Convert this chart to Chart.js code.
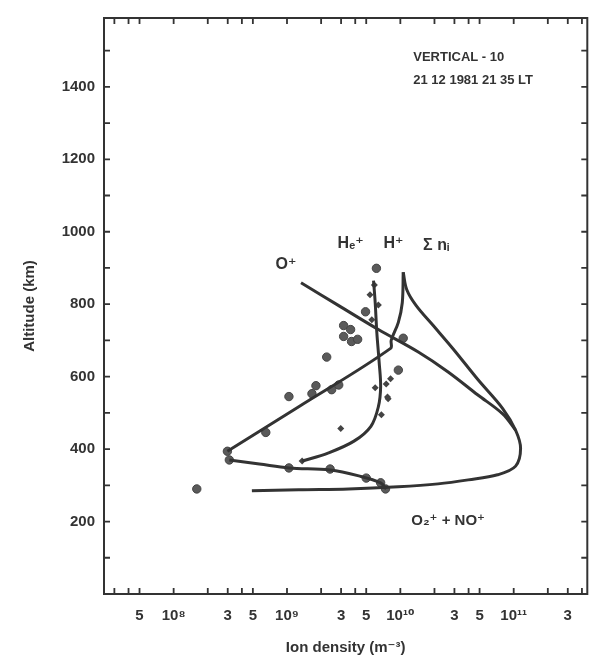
<!DOCTYPE html>
<html><head><meta charset="utf-8">
<script src="https://cdn.jsdelivr.net/npm/chart.js@4"></script>
<style>html,body{margin:0;padding:0;background:#fff}canvas{display:block}</style>
</head><body>
<canvas id="c" width="595" height="663"></canvas>
<script>
// ---- tick definitions ----
const xTickValues = [3e7,4e7,5e7,1e8,2e8,3e8,4e8,5e8,1e9,2e9,3e9,4e9,5e9,1e10,2e10,3e10,4e10,5e10,1e11,2e11,3e11,4e11];
const xTickText   = ['','','5','10⁸','','3','','5','10⁹','','3','','5','10¹⁰','','3','','5','10¹¹','','3',''];
const yTickValues = [100,200,300,400,500,600,700,800,900,1000,1100,1200,1300,1400,1500];
const yTickText   = ['','200','','400','','600','','800','','1000','','1200','','1400',''];

// ---- curves (density m^-3, altitude km) ----
const sumDensity  = [1.06e10,1.14e10,1.38e10,1.95e10,2.95e10,4.83e10,8.0e10,1.04e11,1.15e11,1.04e11,7.2e10,3.97e10,2.15e10,9.6e9,3.5e9,1.27e9,4.9e8];
const sumAltitude = [888,840,796,741,675,592,512,452,402,353,329,315,304,296,290,288,285];

const oDensity  = [1.33e9,2.86e9,6.4e9,1.44e10,2.64e10,4.8e10,8.0e10,1.04e11];
const oAltitude = [859,796,730,668,613,550,497,452];

const hDensity  = [1.06e10,1.04e10,9.6e9,8.3e9,8.2e9,1.27e9,2.98e8];
const hAltitude = [888,804,750,700,678,517,394];

const heDensity  = [5.8e9,6.0e9,6.2e9,6.5e9,6.7e9,6.4e9,5.5e9,3.9e9,2.3e9,1.36e9];
const heAltitude = [865,804,722,640,572,517,463,422,389,367];

const mDensity  = [3.1e8,5.7e8,1.04e9,2.4e9,4.3e9,6.7e9,7.5e9];
const mAltitude = [370,359,348,342,326,307,290];

// ---- measured points ----
const circDensity  = [6.15e9,4.93e9,3.16e9,3.64e9,3.16e9,3.71e9,4.2e9,2.24e9,1.06e10,9.6e9,1.8e9,1.66e9,2.48e9,2.86e9,1.04e9,6.5e8,2.98e8,3.1e8,1.04e9,2.4e9,5.0e9,6.7e9,7.4e9,1.6e8];
const circAltitude = [899,779,741,730,711,697,703,654,706,618,575,553,564,577,545,446,394,370,348,345,320,307,290,290];

const diaDensity  = [6.0e9,7.7e9,6.8e9,2.98e9,1.36e9,7.5e9,8.2e9,7.8e9,5.6e9,5.9e9,5.4e9,6.4e9];
const diaAltitude = [569,544,495,457,367,580,594,539,757,853,826,798];

// ---- annotation texts ----
const noteText = ['VERTICAL - 10','21 12 1981 21 35 LT','O⁺','Hₑ⁺','H⁺','Σ nᵢ','O₂⁺ + NO⁺'];
const noteX    = [1.3e10,1.3e10,0.98e9,3.64e9,8.7e9,2.07e10,2.64e10];
const noteY    = [1482,1419,908,968,968,962,203];
const noteAlign= ['left','left','center','center','center','center','center'];
const noteSize = [13,13,16,16,16,16,15];

const pts = (xs, ys) => xs.map((v,i)=>({x:v,y:ys[i]}));
const INK = '#333';
const FONT = "'Liberation Sans', 'DejaVu Sans', sans-serif";

function lineDs(label, xs, ys){
  return {label, data: pts(xs,ys), showLine:true, tension:0.35, borderColor:INK, borderWidth:3, pointRadius:0, fill:false};
}

const framePlugin = {
  id:'frame',
  afterDatasetsDraw(chart){
    const {ctx, chartArea:a, scales:{x, y}} = chart;
    ctx.save();
    ctx.strokeStyle = INK; ctx.lineWidth = 2;
    ctx.strokeRect(a.left, a.top, a.right-a.left, a.bottom-a.top);
    ctx.lineWidth = 1.8;
    ctx.beginPath();
    xTickValues.forEach(v=>{
      const px = x.getPixelForValue(v);
      ctx.moveTo(px, a.bottom); ctx.lineTo(px, a.bottom-6);
      ctx.moveTo(px, a.top); ctx.lineTo(px, a.top+6);
    });
    yTickValues.forEach(v=>{
      const py = y.getPixelForValue(v);
      ctx.moveTo(a.left, py); ctx.lineTo(a.left+6, py);
      ctx.moveTo(a.right, py); ctx.lineTo(a.right-6, py);
    });
    ctx.stroke();
    ctx.fillStyle = INK;
    ctx.textBaseline = 'middle';
    noteText.forEach((t,i)=>{
      ctx.font = 'bold ' + noteSize[i] + 'px ' + FONT;
      ctx.textAlign = noteAlign[i];
      ctx.fillText(t, x.getPixelForValue(noteX[i]), y.getPixelForValue(noteY[i]));
    });
    ctx.restore();
  }
};

new Chart(document.getElementById('c'), {
  type:'scatter',
  data:{datasets:[
    lineDs('Σ ni', sumDensity, sumAltitude),
    lineDs('O+', oDensity, oAltitude),
    lineDs('H+', hDensity, hAltitude),
    lineDs('He+', heDensity, heAltitude),
    lineDs('O2+ + NO+', mDensity, mAltitude),
    {label:'O+ data', data: pts(circDensity, circAltitude), pointStyle:'circle', pointRadius:4.2, backgroundColor:'#5a5a5a', borderColor:'#444', borderWidth:1},
    {label:'H+ / He+ data', data: pts(diaDensity, diaAltitude), pointStyle:'rectRot', pointRadius:3.5, backgroundColor:'#444', borderColor:'#444', borderWidth:0}
  ]},
  options:{
    responsive:false, animation:false,
    layout:{padding:{top:12,right:5,left:0,bottom:0}},
    plugins:{legend:{display:false}, tooltip:{enabled:false}},
    scales:{
      x:{type:'logarithmic', min:2.43e7, max:4.46e11, position:'bottom',
         grid:{display:false, drawTicks:false}, border:{display:false},
         afterBuildTicks:(s)=>{ s.ticks = xTickValues.map(v=>({value:v})); },
         afterFit:(s)=>{ s.height = 69; },
         ticks:{autoSkip:false, maxRotation:0, minRotation:0, padding:13, color:INK,
                font:{family:FONT, size:15, weight:'bold'},
                callback:(v,i)=>xTickText[i]},
         title:{display:true, text:'Ion density (m⁻³)', color:INK, font:{family:FONT, size:15, weight:'bold'}, padding:{top:0,bottom:6}}
      },
      y:{type:'linear', min:0, max:1590,
         grid:{display:false, drawTicks:false}, border:{display:false},
         afterBuildTicks:(s)=>{ s.ticks = yTickValues.map(v=>({value:v})); },
         afterFit:(s)=>{ s.width = 104; },
         ticks:{autoSkip:false, padding:9, color:INK, font:{family:FONT, size:15, weight:'bold'},
                callback:(v,i)=>yTickText[i]},
         title:{display:true, text:'Altitude (km)', color:INK, font:{family:FONT, size:15, weight:'bold'}, padding:{top:21,bottom:0}}
      }
    }
  },
  plugins:[framePlugin]
});
</script>
</body></html>
